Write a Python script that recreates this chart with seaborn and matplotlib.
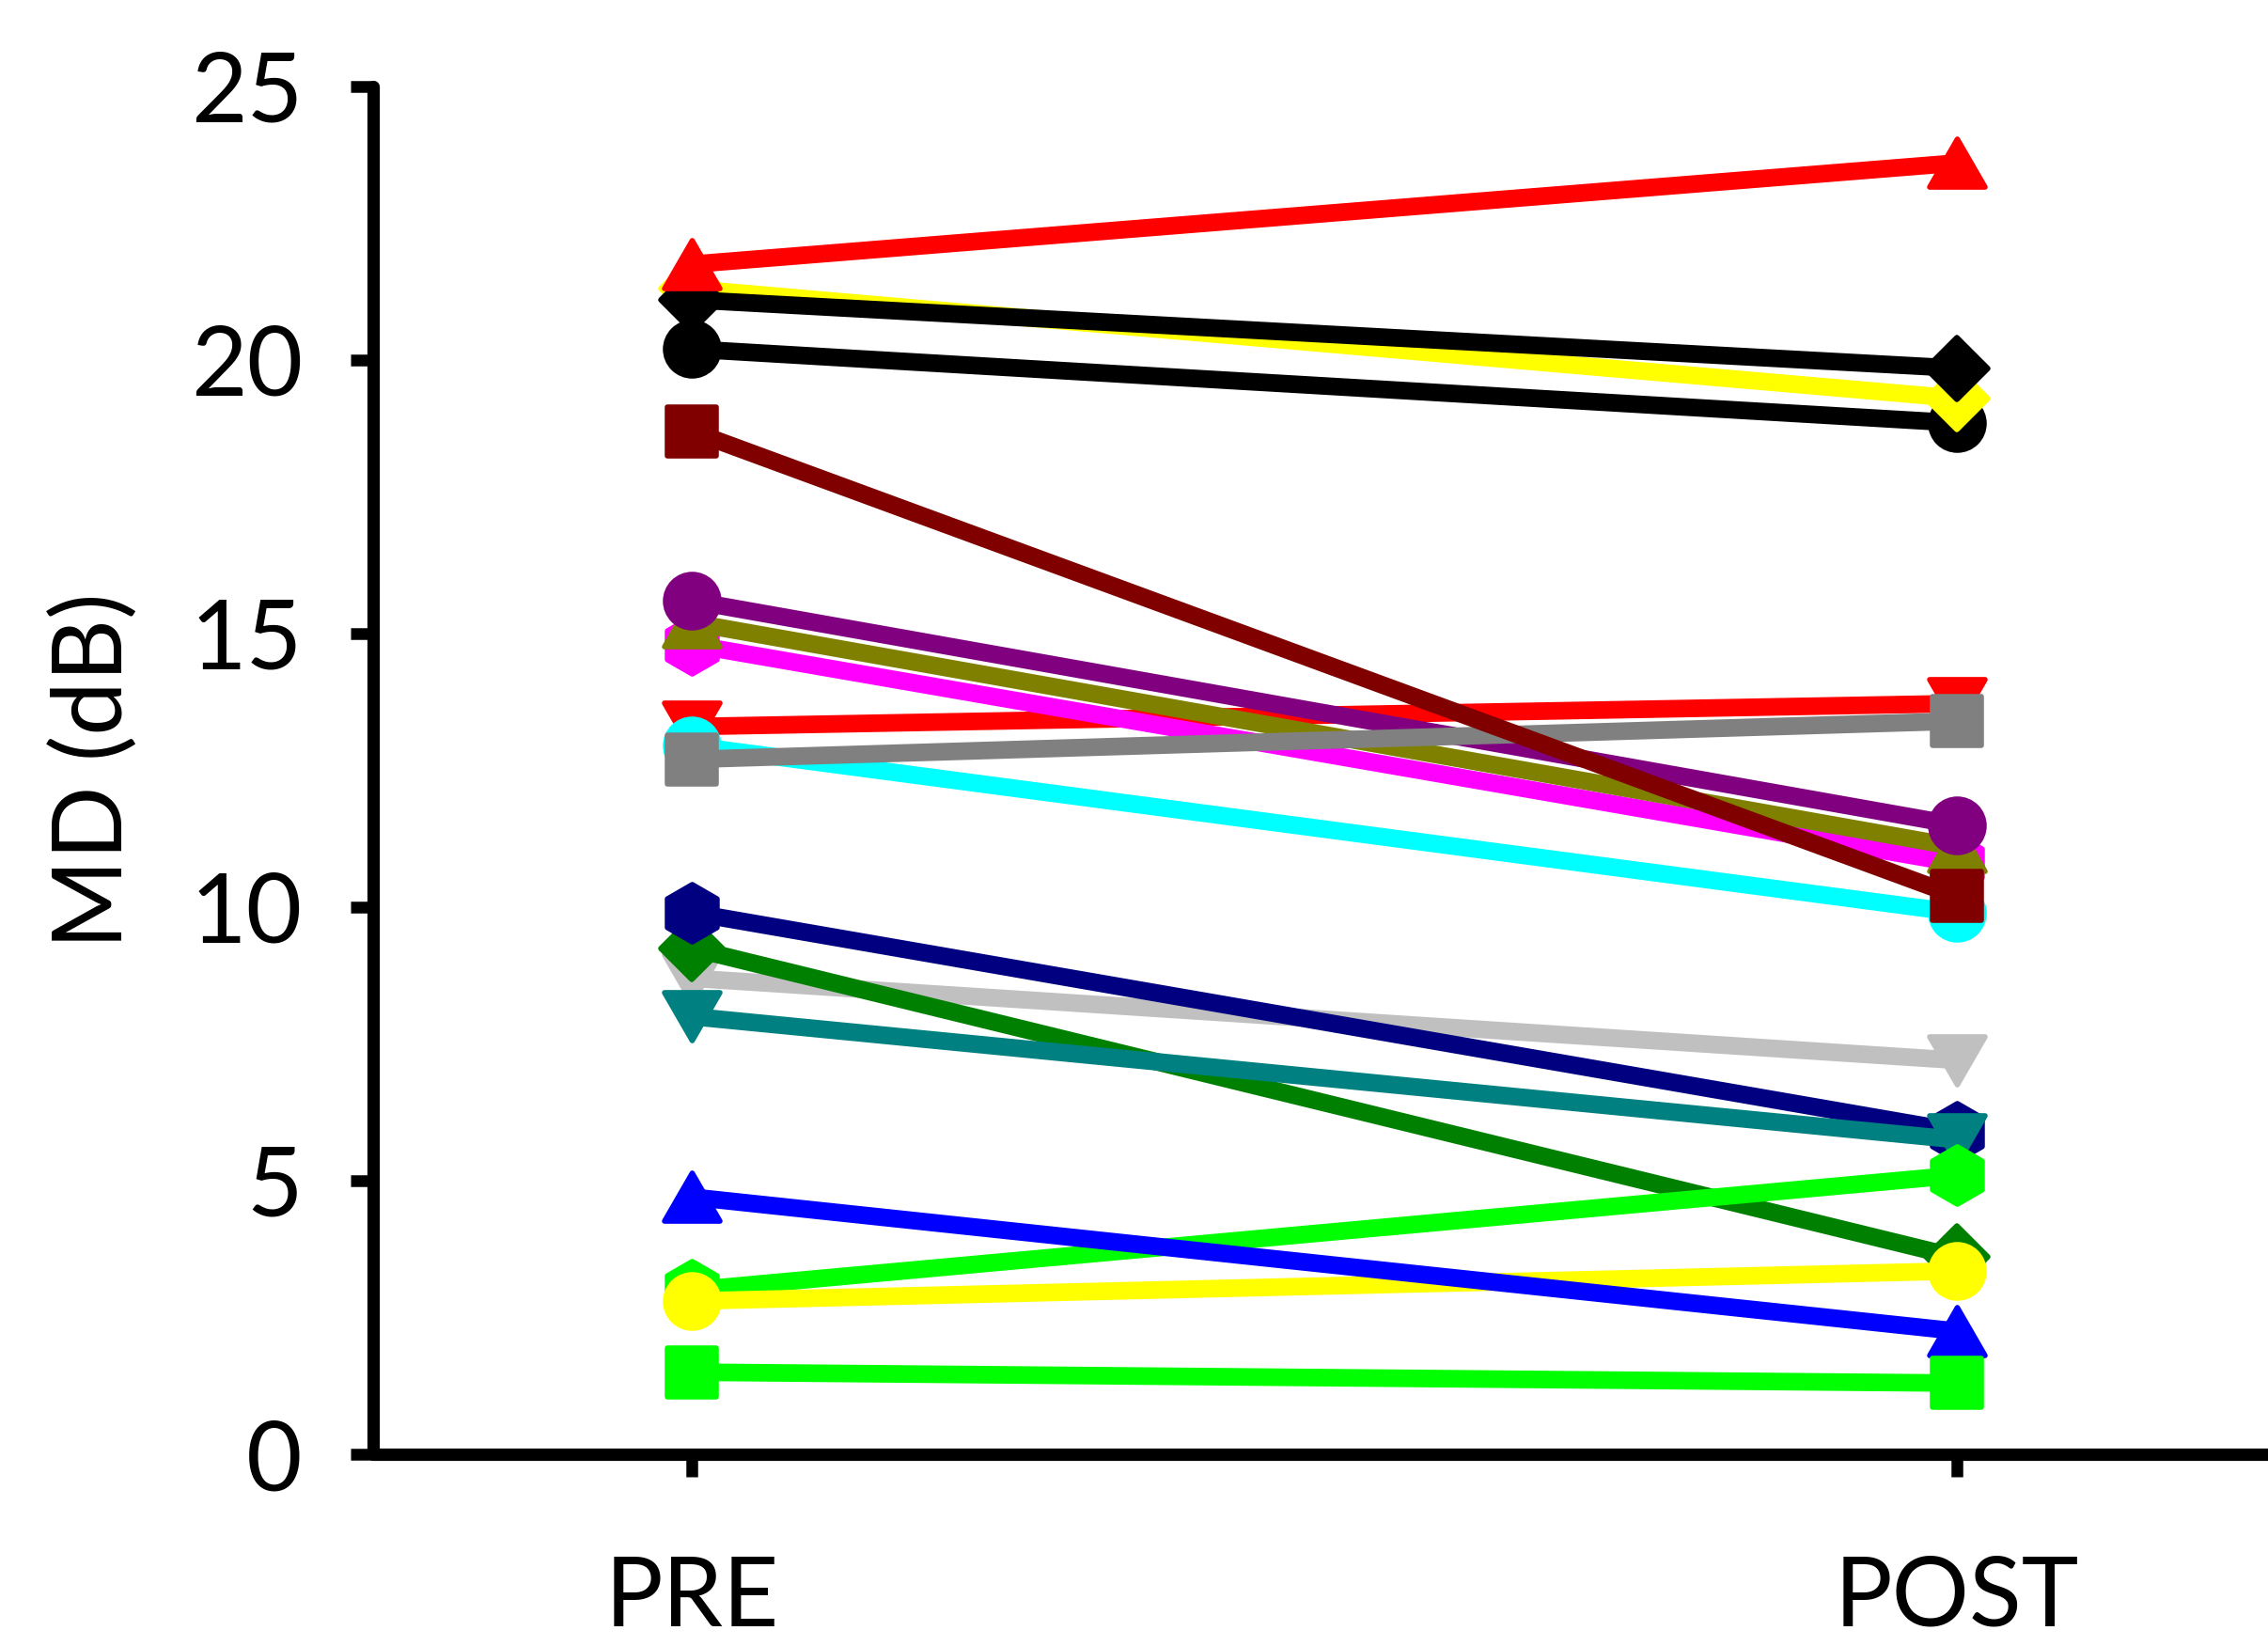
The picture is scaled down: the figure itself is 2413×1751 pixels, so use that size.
import matplotlib
matplotlib.use("Agg")
import matplotlib.pyplot as plt
from matplotlib.markers import MarkerStyle
from matplotlib.path import Path
import seaborn as sns
import pandas as pd

# ---------------- data ----------------
timepoints = ["PRE", "POST"]
subjects = [f"S{i}" for i in range(1, 20)]
pre_md = [20.2, 21.3, 21.1, 21.75, 13.3, 14.8, 15.2, 15.6, 12.95, 12.7,
          18.7, 8.7, 9.25, 9.9, 8.0, 3.0, 2.8, 4.7, 1.5]
post_md = [18.85, 19.3, 19.85, 23.6, 13.72, 10.8, 11.1, 11.5, 9.9, 13.4,
           10.2, 7.2, 3.6, 5.9, 5.75, 5.1, 3.35, 2.25, 1.3]
colors = ["#000000", "#FFFF00", "#000000", "#FF0000", "#FF0000", "#FF00FF",
          "#808000", "#800080", "#00FFFF", "#808080", "#800000", "#C0C0C0",
          "#008000", "#000080", "#008080", "#00FF00", "#FFFF00", "#0000FF",
          "#00FF00"]
markers = ["o", "D", "D", "^", "v", "h", "^", "o", "o", "s", "s", "v",
           "D", "h", "v", "h", "o", "^", "s"]
y_ticks = [0, 5, 10, 15, 20, 25]
y_label = "MD (dB)"

# ---------------- styling ----------------
tri_up = Path([(0, 0.866), (-1, -0.866), (1, -0.866), (0, 0.866)],
              [Path.MOVETO, Path.LINETO, Path.LINETO, Path.CLOSEPOLY])
tri_down = Path([(0, -0.866), (-1, 0.866), (1, 0.866), (0, -0.866)],
                [Path.MOVETO, Path.LINETO, Path.LINETO, Path.CLOSEPOLY])
marker_shape = {"o": "o", "s": "s", "^": tri_up, "v": tri_down, "h": "h", "D": "D"}
marker_size = {"o": 41, "s": 38, "^": 42.5, "v": 42.5, "h": 44, "D": 33.5}
FONT_SIZE = 74
LINE_W = 13.5

sns.set_style("ticks")
plt.rcParams["font.family"] = ["Lato", "DejaVu Sans"]

rows = []
for s, a, b in zip(subjects, pre_md, post_md):
    rows.append({"subject": s, "time": timepoints[0], "md": a})
    rows.append({"subject": s, "time": timepoints[1], "md": b})
df = pd.DataFrame(rows)

fig = plt.figure(figsize=(24.13, 17.51), dpi=100)
ax = fig.add_axes([0.1645, 0.1165, 0.8355, 0.831])

for s, c, m in zip(subjects, colors, markers):
    sub = df[df["subject"] == s]
    sns.lineplot(data=sub, x="time", y="md", ax=ax, sort=False,
                 errorbar=None, legend=False, color=c,
                 marker=MarkerStyle(marker_shape[m], joinstyle="round"),
                 markersize=marker_size[m], markeredgewidth=4,
                 markeredgecolor=c, markerfacecolor=c,
                 linewidth=LINE_W, solid_capstyle="round")

ax.set_xlim(-0.252, 1.246)
ax.set_ylim(0, 25)
ax.set_yticks(y_ticks)
ax.set_xlabel("")
ax.set_ylabel(y_label, fontsize=FONT_SIZE, color="black")
ax.yaxis.set_label_coords(-0.147, 0.5)
ax.yaxis.label.set_verticalalignment("center")

sns.despine(ax=ax)
for side in ["left", "bottom"]:
    ax.spines[side].set_linewidth(9.5)
    ax.spines[side].set_capstyle("round")
    ax.spines[side].set_color("black")

ax.tick_params(axis="y", length=17, width=9, direction="out",
               labelsize=FONT_SIZE, pad=37, colors="black")
ax.tick_params(axis="x", length=17, width=9, direction="out",
               labelsize=FONT_SIZE, pad=60, colors="black")

fig.savefig("out.png", dpi=100)
